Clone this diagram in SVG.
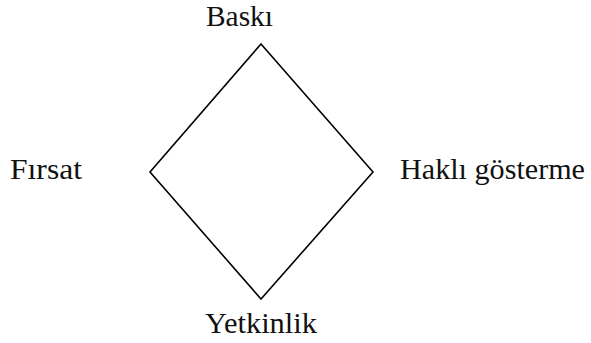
<svg xmlns="http://www.w3.org/2000/svg" width="591" height="343" viewBox="0 0 591 343">
  <style>
    .lbl { font-family: "Liberation Serif", "DejaVu Serif", serif; font-size: 29px; fill: #111; }
    .edge { fill: none; stroke: #000; stroke-width: 1.6; }
  </style>
  <rect width="591" height="343" fill="#fff"/>
  <g id="connectors">
    <path class="edge" d="M261,44 L373,172 L261,299 L150,172 Z"/>
  </g>
  <g id="node-baski">
    <text class="lbl" x="206" y="26" textLength="67" lengthAdjust="spacingAndGlyphs">Baskı</text>
  </g>
  <g id="node-firsat">
    <text class="lbl" x="10" y="179" textLength="72" lengthAdjust="spacingAndGlyphs">Fırsat</text>
  </g>
  <g id="node-hakli">
    <text class="lbl" x="400" y="179" textLength="185" lengthAdjust="spacingAndGlyphs">Haklı gösterme</text>
  </g>
  <g id="node-yetkinlik">
    <text class="lbl" x="205" y="333" textLength="112" lengthAdjust="spacingAndGlyphs">Yetkinlik</text>
  </g>
</svg>
